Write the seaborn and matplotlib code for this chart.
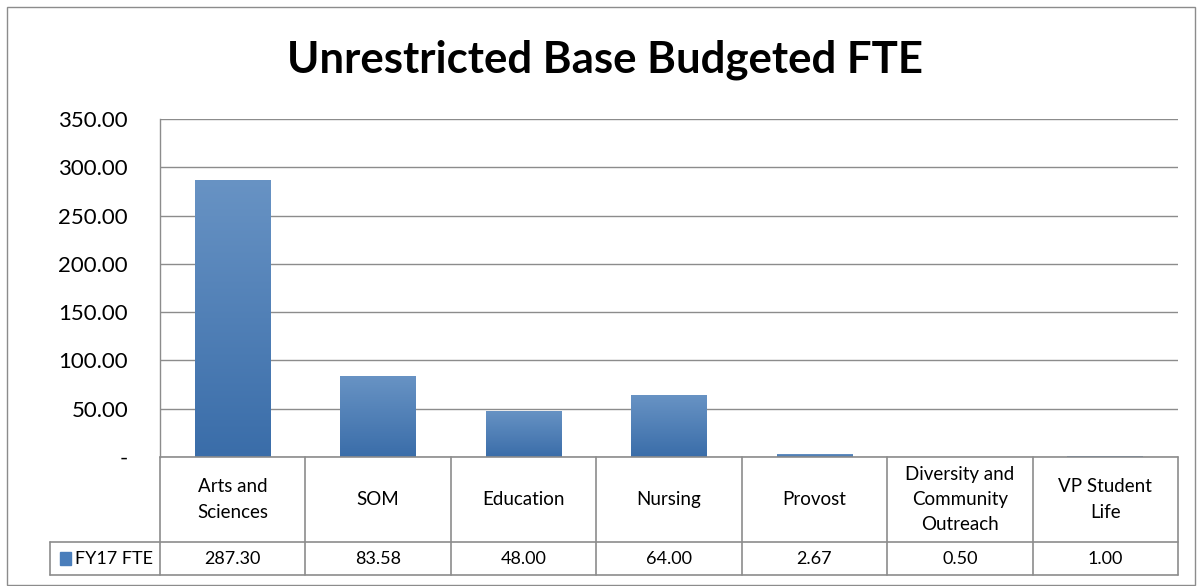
import numpy as np
import seaborn as sns
import matplotlib.pyplot as plt
from matplotlib.lines import Line2D
from matplotlib.patches import Rectangle
from matplotlib.colors import LinearSegmentedColormap

# datos
departamentos = ['Arts and\nSciences', 'SOM', 'Education', 'Nursing', 'Provost',
                 'Diversity and\nCommunity\nOutreach', 'VP Student\nLife']
fte_fy17 = [287.30, 83.58, 48.00, 64.00, 2.67, 0.50, 1.00]
serie = 'FY17 FTE'
y_ticks = [0, 50, 100, 150, 200, 250, 300, 350]

sns.set_theme(style='white')
plt.rcParams['font.family'] = ['Lato', 'DejaVu Sans']
plt.rcParams['text.color'] = 'black'

W, H = 1197, 586
fig = plt.figure(figsize=(W / 100, H / 100), dpi=100)
ax = fig.add_axes([160 / W, (H - 457) / H, (1178 - 160) / W, (457 - 119) / H])

sns.barplot(x=list(range(len(fte_fy17))), y=fte_fy17, ax=ax, width=0.52,
            color='#4A7EBB', saturation=1, edgecolor='none')

# degradado en las barras
grad = np.linspace(0, 1, 256).reshape(-1, 1)
cmap_barra = LinearSegmentedColormap.from_list('g', ['#3A6DA9', '#6893C4'])
for p in ax.patches:
    x0, y0 = p.get_x(), p.get_y()
    w, h = p.get_width(), p.get_height()
    if h <= 0:
        continue
    im = ax.imshow(grad, cmap=cmap_barra, extent=[x0, x0 + w, y0, y0 + h],
                   aspect='auto', origin='lower', zorder=2)
    im.set_clip_path(p)

ax.set_xlim(-0.5, len(fte_fy17) - 0.5)
ax.set_ylim(0, 350)
ax.set_yticks(y_ticks)
ax.set_yticklabels(['-' if t == 0 else f'{t:.2f}' for t in y_ticks], fontsize=16, color='black')
ax.tick_params(axis='y', length=0, pad=23)
ax.set_xticks([])
ax.set_xlabel('')
ax.grid(axis='y', color='#8C8C8C', linewidth=1)
ax.set_axisbelow(True)
for s in ['top', 'right', 'bottom']:
    ax.spines[s].set_visible(False)
ax.spines['left'].set_color('#8C8C8C')
ax.spines['left'].set_linewidth(1)

# tabla de datos
tr = ax.get_xaxis_transform()
fila1 = -85 / 338
fila2 = -118 / 338
x_izq = (50 - 160) / ((1178 - 160) / 7) - 0.5
x_der = len(fte_fy17) - 0.5
c = '#8C8C8C'

def linea(xs, ys):
    ax.add_line(Line2D(xs, ys, transform=tr, color=c, linewidth=1.2, clip_on=False))

linea([-0.5, x_der], [0, 0])
linea([x_izq, x_der], [fila1, fila1])
linea([x_izq, x_der], [fila2, fila2])
for i in range(len(fte_fy17) + 1):
    linea([i - 0.5, i - 0.5], [0, fila2])
linea([x_izq, x_izq], [fila1, fila2])

for i, (d, v) in enumerate(zip(departamentos, fte_fy17)):
    ax.text(i, fila1 / 2, d, transform=tr, ha='center', va='center',
            fontsize=13.5, linespacing=1.6, color='black')
    ax.text(i, (fila1 + fila2) / 2, f'{v:.2f}', transform=tr, ha='center',
            va='center', fontsize=13, color='black')

ax.add_patch(Rectangle((x_izq + 0.07, (fila1 + fila2) / 2 - 0.018), 0.075, 0.036,
                       transform=tr, color='#4A7EBB', clip_on=False))
ax.text(x_izq + 0.17, (fila1 + fila2) / 2, serie, transform=tr, ha='left',
        va='center', fontsize=13, color='black')

fig.suptitle('Unrestricted Base Budgeted FTE', fontsize=31.5, fontweight='bold',
             x=605 / W, y=1 - 60 / H, va='center', color='black')

fig.patches.append(Rectangle((7 / W, 1 / H), 1188 / W, 578 / H, transform=fig.transFigure,
                             fill=False, edgecolor='#8C8C8C', linewidth=1))

fig.savefig('out.png', dpi=100, facecolor='white')
